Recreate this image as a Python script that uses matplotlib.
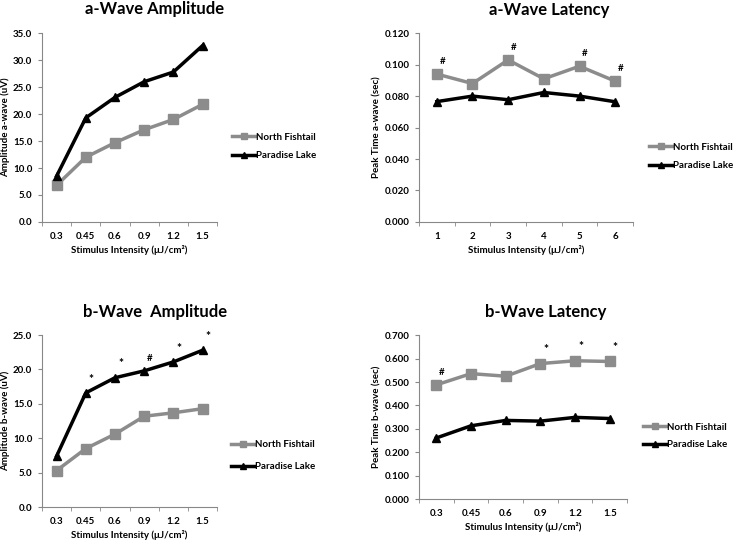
import matplotlib
matplotlib.use('Agg')
from matplotlib import pyplot as plt
import numpy as np

plt.rcParams['font.family'] = ['Lato', 'DejaVu Sans']
plt.rcParams['font.weight'] = 'bold'

intensity = ['0.3', '0.45', '0.6', '0.9', '1.2', '1.5']
intensity_num = ['1', '2', '3', '4', '5', '6']

a_amp_nf = [6.8, 12.0, 14.7, 17.1, 19.0, 21.8]
a_amp_pl = [8.5, 19.3, 23.1, 26.0, 27.8, 32.7]

a_lat_nf = [0.094, 0.088, 0.103, 0.091, 0.099, 0.0895]
a_lat_pl = [0.0765, 0.080, 0.0777, 0.0823, 0.080, 0.0764]
a_lat_marks = ['#', '', '#', '', '#', '#']

b_amp_nf = [5.3, 8.5, 10.6, 13.2, 13.7, 14.3]
b_amp_pl = [7.4, 16.6, 18.8, 19.8, 21.1, 22.8]
b_amp_marks = ['', '*', '*', '#', '*', '*']

b_lat_nf = [0.488, 0.536, 0.525, 0.579, 0.591, 0.588]
b_lat_pl = [0.261, 0.313, 0.336, 0.333, 0.349, 0.344]
b_lat_marks = ['#', '', '', '*', '*', '*']

GRAY = '#8c8c8c'
W, H = 733, 544


def draw_panel(ax, labels, nf, pl, title, ylabel, ymax, ystep, fmt, title_xy,
               legend_xy, legend_sp, marks=None, mark_on=None):
    x = np.arange(len(labels))
    ax.plot(x, nf, color=GRAY, lw=2.5, marker='s', ms=6.5, label='North Fishtail')
    ax.plot(x, pl, color='black', lw=2.5, marker='^', ms=6, label='Paradise Lake')
    ax.set_xlim(-0.5, len(labels) - 0.5)
    ax.set_ylim(0, ymax)
    yt = np.arange(0, ymax + ystep / 2, ystep)
    ax.set_yticks(yt)
    ax.set_yticklabels([fmt.format(v) for v in yt], fontsize=7, fontweight='bold')
    ax.set_xticks(x)
    ax.set_xticklabels(labels, fontsize=7, fontweight='bold')
    ax.set_xticks(np.arange(-0.5, len(labels)), minor=True)
    ax.tick_params(axis='x', which='major', length=0, pad=7)
    ax.tick_params(axis='x', which='minor', length=3, color='#888888', direction='out')
    ax.tick_params(axis='y', length=3, pad=4, color='#888888', direction='out')
    for s in ['top', 'right']:
        ax.spines[s].set_visible(False)
    for s in ['left', 'bottom']:
        ax.spines[s].set_color('#888888')
    fig.text(title_xy[0] / W, 1 - title_xy[1] / H, title, fontsize=12, fontweight='bold',
             ha='center', va='center')
    ax.set_ylabel(ylabel, fontsize=7, fontweight='bold', labelpad=2)
    ax.set_xlabel('Stimulus Intensity (\u03bcJ/cm\u00b2)', fontsize=7, fontweight='bold', labelpad=3)
    if marks is not None:
        for i, m in enumerate(marks):
            if m:
                ax.annotate(m, (x[i], mark_on[i]), xytext=(4, 6), textcoords='offset points',
                            ha='center', va='bottom', fontweight='bold',
                            fontsize=8.5 if m == '*' else 7)
    ax.legend(loc='center left', bbox_to_anchor=(legend_xy[0] / W, 1 - legend_xy[1] / H),
              bbox_transform=fig.transFigure, frameon=False, borderpad=0, borderaxespad=0,
              handlelength=2.4, handletextpad=0.1, labelspacing=legend_sp,
              markerscale=0.75, prop={'weight': 'bold', 'size': 7})


fig = plt.figure(figsize=(7.33, 5.44), dpi=100)
ax1 = fig.add_axes([0.0573, 0.592, 0.239, 0.347])
ax2 = fig.add_axes([0.5716, 0.592, 0.292, 0.347])
ax3 = fig.add_axes([0.0573, 0.068, 0.239, 0.316])
ax4 = fig.add_axes([0.5716, 0.0827, 0.284, 0.301])

draw_panel(ax1, intensity, a_amp_nf, a_amp_pl, 'a-Wave Amplitude', 'Amplitude a-wave (uV)',
           35.0, 5.0, '{:.1f}', (155, 9), (232, 146.5), 0.95)
draw_panel(ax2, intensity_num, a_lat_nf, a_lat_pl, 'a-Wave Latency', 'Peak Time a-wave (sec)',
           0.120, 0.020, '{:.3f}', (549, 10), (649, 156.5), 0.95,
           marks=a_lat_marks, mark_on=a_lat_nf)
draw_panel(ax3, intensity, b_amp_nf, b_amp_pl, 'b-Wave  Amplitude', 'Amplitude b-wave (uV)',
           25.0, 5.0, '{:.1f}', (155, 312), (231, 455.5), 1.35,
           marks=b_amp_marks, mark_on=b_amp_pl)
draw_panel(ax4, intensity, b_lat_nf, b_lat_pl, 'b-Wave Latency', 'Peak Time b-wave (sec)',
           0.700, 0.100, '{:.3f}', (546, 312), (643, 436), 0.85,
           marks=b_lat_marks, mark_on=b_lat_nf)

fig.savefig('out.png', dpi=100)
